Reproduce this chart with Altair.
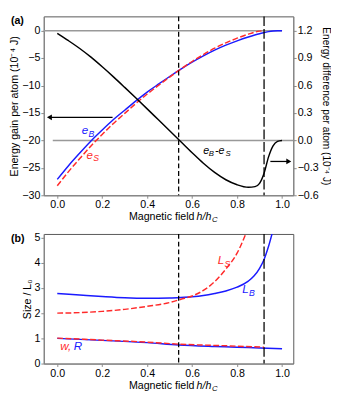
import altair as alt
import pandas as pd

# ---------------- data ----------------
x_eB = [0.0, 0.05, 0.1, 0.15, 0.2, 0.25, 0.3, 0.35, 0.4, 0.45, 0.5, 0.55, 0.6, 0.65, 0.7, 0.75, 0.8, 0.85, 0.9, 0.92, 0.94, 0.96, 0.98, 1.0]
eB = [-27.1, -24.6, -22.3, -20.1, -18.1, -16.2, -14.5, -12.8, -11.2, -9.75, -8.35, -7.0, -5.75, -4.6, -3.55, -2.65, -1.85, -1.15, -0.55, -0.36, -0.18, -0.06, -0.01, 0.0]

x_eS = [0.0, 0.05, 0.1, 0.15, 0.2, 0.25, 0.3, 0.35, 0.4, 0.45, 0.5, 0.55, 0.6, 0.65, 0.7, 0.75, 0.8, 0.85, 0.9, 0.92]
eS = [-28.27, -25.69, -23.31, -21.01, -18.91, -16.9, -15.08, -13.26, -11.55, -9.98, -8.46, -6.99, -5.62, -4.35, -3.2, -2.22, -1.37, -0.64, -0.08, 0.0]

x_diff = [0.0, 0.05, 0.1, 0.15, 0.2, 0.25, 0.3, 0.35, 0.4, 0.45, 0.5, 0.55, 0.6, 0.65, 0.7, 0.75, 0.8, 0.85, 0.88, 0.9, 0.92, 0.94, 0.96, 0.98, 1.0]
diff = [1.17, 1.09, 1.005, 0.91, 0.805, 0.695, 0.58, 0.463, 0.345, 0.225, 0.105, -0.015, -0.135, -0.25, -0.35, -0.43, -0.485, -0.513, -0.505, -0.47, -0.36, -0.18, -0.06, -0.01, 0.0]

x_LB = [0.0, 0.1, 0.2, 0.3, 0.4, 0.5, 0.55, 0.6, 0.65, 0.7, 0.75, 0.8, 0.85, 0.875, 0.9, 0.92, 0.94, 0.96]
LB = [2.78, 2.72, 2.66, 2.61, 2.59, 2.6, 2.62, 2.65, 2.7, 2.78, 2.88, 3.03, 3.27, 3.47, 3.78, 4.13, 4.65, 5.3]

x_LS = [0.0, 0.1, 0.2, 0.3, 0.4, 0.5, 0.55, 0.6, 0.65, 0.7, 0.75, 0.8, 0.85]
LS = [2.0, 2.02, 2.07, 2.15, 2.27, 2.42, 2.55, 2.68, 2.9, 3.25, 3.75, 4.38, 5.4]

x_w = [0.0, 0.2, 0.4, 0.54, 0.7, 0.8, 0.92]
w = [1.01, 0.93, 0.85, 0.77, 0.72, 0.69, 0.65]

x_R = [0.0, 0.2, 0.4, 0.54, 0.7, 0.8, 0.9, 1.0]
R = [1.0, 0.92, 0.83, 0.74, 0.68, 0.65, 0.62, 0.59]

critical_fields = [0.54, 0.92]
critical_dash = [[5, 3], [10, 3]]

x_ticks = [0.0, 0.2, 0.4, 0.6, 0.8, 1.0]
left_ticks = [-30, -25, -20, -15, -10, -5, 0]
right_ticks = [-0.6, -0.3, 0.0, 0.3, 0.6, 0.9, 1.2]
size_ticks = [0, 1, 2, 3, 4, 5]

# reference lines (left-axis units): value, x start, x end
hlines_y = [0, -20]
hlines_x1 = [-0.06, -0.02]
hlines_x2 = [1.0, 1.05]

# arrows
left_arrow = dict(x1=0.246, x2=-0.035, y=-15.8)      # left axis units
right_arrow = dict(x1=0.948, x2=1.03, y=-0.23)       # right axis units

BLUE = "#1a1aff"
RED = "#ff2a2a"
FONT = "Liberation Sans"
W, H1, H2 = 258, 185, 134

XDOM = [-0.06, 1.05]
LDOM = [-30, 2.6]
RDOM = [-0.6, 1.356]
SDOM = [0, 5.14]

X_AXIS = alt.Axis(values=x_ticks, format=".1f", title=None)
AXES = {
    "L": alt.Axis(values=left_ticks, format="d", title="Energy gain per atom (10⁻⁴ J)", orient="left"),
    "R": alt.Axis(values=right_ticks, format=".1f", title="Energy difference per atom (10⁻⁴ J)",
                  orient="right", titleFontSize=10.5),
    "S": alt.Axis(values=size_ticks, format="d", title="Size / L₀", orient="left"),
}
DOMS = {"L": LDOM, "R": RDOM, "S": SDOM}


def xs():
    return alt.X("x:Q", scale=alt.Scale(domain=XDOM, nice=False, zero=False), axis=X_AXIS)


def ys(k):
    return alt.Y("y:Q", scale=alt.Scale(domain=DOMS[k], nice=False, zero=False), axis=AXES[k])


def df(x, y):
    return pd.DataFrame({"x": x, "y": y})


def line(x, y, k, color, dash=None, width=1.5):
    kw = dict(color=color, strokeWidth=width, interpolate="monotone", clip=True)
    if dash:
        kw["strokeDash"] = dash
    return alt.Chart(df(x, y)).mark_line(**kw).encode(x=xs(), y=ys(k))


def vlines():
    layers = []
    for xv, d in zip(critical_fields, critical_dash):
        layers.append(alt.Chart(pd.DataFrame({"x": [xv]})).mark_rule(
            color="black", strokeWidth=1.3, strokeDash=d).encode(x=xs()))
    return layers


def txt(text, x, y, k, color, size=12, dx=0, dy=0, italic=True):
    kw = dict(text=text, color=color, fontSize=size, font=FONT, align="left",
              baseline="alphabetic", dx=dx, dy=dy)
    if italic:
        kw["fontStyle"] = "italic"
    return alt.Chart(df([x], [y])).mark_text(**kw).encode(x=xs(), y=ys(k))


def xtitle(h):
    start = W / 2 - 41
    base = alt.Chart(pd.DataFrame({"a": [0]}))
    return [
        base.mark_text(text="Magnetic field", font=FONT, fontSize=11, align="left",
                       baseline="middle", color="black").encode(
            x=alt.value(start), y=alt.value(h + 23)),
        base.mark_text(text="h/h", font=FONT, fontSize=11, fontStyle="italic", align="left",
                       baseline="middle", color="black").encode(
            x=alt.value(start + 70), y=alt.value(h + 23)),
        base.mark_text(text="C", font=FONT, fontSize=8, fontStyle="italic", align="left",
                       baseline="middle", color="black").encode(
            x=alt.value(start + 86), y=alt.value(h + 26)),
    ]


def panel_label(t):
    return alt.Chart(pd.DataFrame({"a": [0]})).mark_text(
        text=t, font=FONT, fontSize=11, fontWeight="bold", align="left",
        baseline="middle", color="black").encode(x=alt.value(-34), y=alt.value(5))


# ---------------- panel (a) ----------------
hl = alt.Chart(pd.DataFrame({"y": hlines_y, "x": hlines_x1, "x2": hlines_x2})).mark_rule(
    color="#999999", strokeWidth=1.5).encode(x=xs(), x2="x2:Q", y=ys("L"))

la = pd.DataFrame({"x": [left_arrow["x1"]], "x2": [left_arrow["x2"]], "y": [left_arrow["y"]]})
la_rule = alt.Chart(la).mark_rule(color="black", strokeWidth=1.3).encode(x=xs(), x2="x2:Q", y=ys("L"))
la_head = alt.Chart(df([left_arrow["x2"]], [left_arrow["y"]])).mark_point(
    shape="triangle-left", filled=True, color="black", size=35, opacity=1).encode(x=xs(), y=ys("L"))

left_layer = alt.layer(
    hl,
    line(x_eB, eB, "L", BLUE),
    line(x_eS, eS, "L", RED, dash=[6, 2.5]),
    *vlines(),
    la_rule, la_head,
    txt("e", 0.109, -18.9, "L", BLUE),
    txt("B", 0.109, -18.9, "L", BLUE, size=9, dx=7, dy=3),
    txt("e", 0.13, -23.3, "L", RED),
    txt("S", 0.13, -23.3, "L", RED, size=9, dx=7, dy=3),
    *xtitle(H1),
    panel_label("(a)"),
)

ra = pd.DataFrame({"x": [right_arrow["x1"]], "x2": [right_arrow["x2"]], "y": [right_arrow["y"]]})
ra_rule = alt.Chart(ra).mark_rule(color="black", strokeWidth=1.3).encode(x=xs(), x2="x2:Q", y=ys("R"))
ra_head = alt.Chart(df([right_arrow["x2"]], [right_arrow["y"]])).mark_point(
    shape="triangle-right", filled=True, color="black", size=35, opacity=1).encode(x=xs(), y=ys("R"))

right_layer = alt.layer(
    line(x_diff, diff, "R", "black"),
    ra_rule, ra_head,
    txt("e", 0.65, -0.144, "R", "black", size=11),
    txt("B", 0.65, -0.144, "R", "black", size=8, dx=5.5, dy=3),
    txt("-e", 0.65, -0.144, "R", "black", size=11, dx=12),
    txt("S", 0.65, -0.144, "R", "black", size=8, dx=23, dy=3),
)

top = alt.layer(left_layer, right_layer).resolve_scale(y="independent").properties(width=W, height=H1)

# ---------------- panel (b) ----------------
bottom = alt.layer(
    line(x_LB, LB, "S", BLUE),
    line(x_LS, LS, "S", RED, dash=[6, 2.5]),
    line(x_R, R, "S", BLUE),
    line(x_w, w, "S", RED, dash=[6, 2.5]),
    *vlines(),
    txt("L", 0.714, 3.95, "S", RED),
    txt("S", 0.714, 3.95, "S", RED, size=9, dx=7, dy=3),
    txt("L", 0.823, 2.79, "S", BLUE),
    txt("B", 0.823, 2.79, "S", BLUE, size=9, dx=7, dy=3),
    txt("w,", 0.013, 0.52, "S", RED),
    txt("R", 0.013, 0.52, "S", BLUE, dx=14),
    *xtitle(H2),
    panel_label("(b)"),
).properties(width=W, height=H2)

chart = alt.vconcat(top, bottom, spacing=6).properties(padding=0).configure_view(
    stroke="#555555", strokeWidth=1
).configure_axis(
    grid=False, domainColor="#888888", tickColor="#888888", tickSize=3,
    labelFont=FONT, labelFontSize=11, labelColor="black", labelPadding=1, labelFlush=False,
    titleFont=FONT, titleFontSize=11, titleFontWeight="normal", titleColor="black", titlePadding=2,
)

chart.save("out.html", embed_options={"renderer": "svg", "actions": False})
